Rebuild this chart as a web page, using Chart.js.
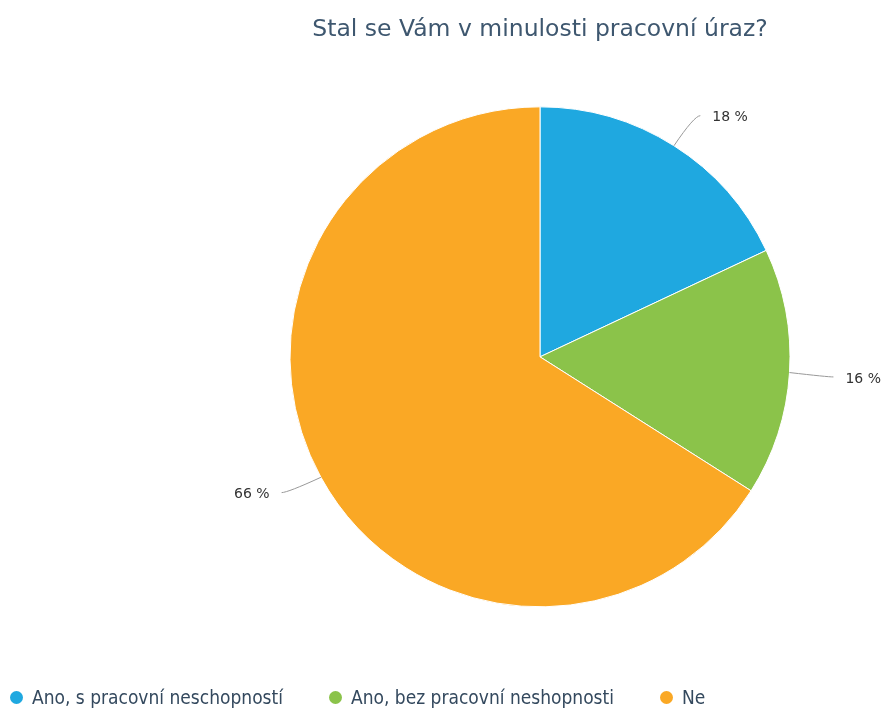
<!DOCTYPE html>
<html>
<head>
<meta charset="utf-8">
<script src="https://cdn.jsdelivr.net/npm/chart.js@4"></script>
<style>
  html, body { margin: 0; padding: 0; background: #fff; }
  #wrap { width: 889px; height: 711px; position: relative; }
  #legend { position: absolute; left: 10px; top: 686px; display: flex; font-family: 'DejaVu Sans Condensed'; font-size: 19px; color: #34495e; }
  #legend .item { display: flex; align-items: center; margin-right: 46px; white-space: nowrap; }
  #legend .dot { width: 13px; height: 13px; border-radius: 50%; margin-right: 9px; }
</style>
</head>
<body>
<div id="wrap"><canvas id="chart"></canvas><div id="legend"></div></div>
<script>
const titleText = 'Stal se Vám v minulosti pracovní úraz?';
const categories = ['Ano, s pracovní neschopností', 'Ano, bez pracovní neshopnosti', 'Ne'];
const values = [18, 16, 66];
const colors = ['#1fa8e0', '#8bc34a', '#faa825'];

// leader lines + percent labels outside the pie
const outsideLabels = {
  id: 'outsideLabels',
  afterDatasetsDraw(chart) {
    const ctx = chart.ctx;
    const meta = chart.getDatasetMeta(0);
    ctx.save();
    meta.data.forEach((arc, i) => {
      const p = arc.getProps(['x', 'y', 'startAngle', 'endAngle', 'outerRadius']);
      const mid = (p.startAngle + p.endAngle) / 2;
      const cos = Math.cos(mid), sin = Math.sin(mid);
      const right = cos >= 0;
      const x0 = p.x + cos * p.outerRadius;
      const y0 = p.y + sin * p.outerRadius;
      const x1 = p.x + cos * (p.outerRadius + 38);
      const y1 = p.y + sin * (p.outerRadius + 38) + (right ? 2 : -3);
      const x2 = x1 + (right ? 6 : -6);
      ctx.strokeStyle = '#999';
      ctx.lineWidth = 1;
      ctx.beginPath();
      ctx.moveTo(x0, y0);
      ctx.quadraticCurveTo(x1, y1, x2, y1);
      ctx.stroke();
      ctx.fillStyle = '#333';
      ctx.font = '14px "DejaVu Sans"';
      ctx.textBaseline = 'middle';
      ctx.textAlign = right ? 'left' : 'right';
      ctx.fillText(values[i] + ' %', x2 + (right ? 12 : -12), y1 + 2);
    });
    ctx.restore();
  }
};

new Chart(document.getElementById('chart'), {
  type: 'pie',
  data: {
    labels: categories,
    datasets: [{
      data: values,
      backgroundColor: colors,
      borderColor: '#fff',
      borderWidth: 1,
      radius: 250
    }]
  },
  options: {
    responsive: true,
    maintainAspectRatio: false,
    animation: false,
    layout: { padding: { left: 191, top: 0, bottom: 104 } },
    plugins: {
      title: {
        display: true,
        text: titleText,
        color: '#3e576f',
        font: { family: 'DejaVu Sans', size: 23.5, weight: 'normal' },
        padding: { top: 16, bottom: 62.5 }
      },
      legend: { display: false },
      tooltip: { enabled: false }
    }
  },
  plugins: [outsideLabels]
});

// html legend built from the same arrays
const legendEl = document.getElementById('legend');
categories.forEach((c, i) => {
  const item = document.createElement('div');
  item.className = 'item';
  const dot = document.createElement('span');
  dot.className = 'dot';
  dot.style.background = colors[i];
  const txt = document.createElement('span');
  txt.textContent = c;
  item.appendChild(dot);
  item.appendChild(txt);
  legendEl.appendChild(item);
});
</script>
</body>
</html>
